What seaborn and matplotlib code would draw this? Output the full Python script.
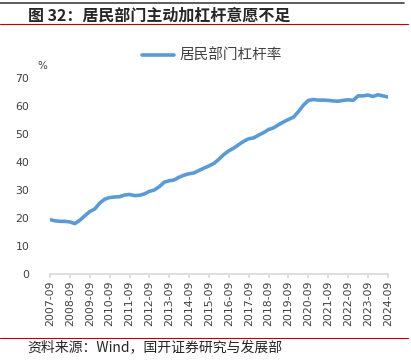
import numpy as np
import pandas as pd
import matplotlib
matplotlib.use("Agg")
import matplotlib.pyplot as plt
import seaborn as sns

# quarterly household leverage ratio (%), 2007-09 .. 2024-09
leverage = [19.4, 19.0, 18.8, 18.8, 18.6, 18.0, 19.2, 20.8, 22.3, 23.2,
            25.3, 26.7, 27.3, 27.5, 27.6, 28.2, 28.4, 28.0, 28.1, 28.6,
            29.5, 30.0, 31.2, 32.8, 33.3, 33.6, 34.6, 35.3, 35.8, 36.1,
            37.0, 37.8, 38.6, 39.5, 41.0, 42.7, 44.0, 45.0, 46.2, 47.4,
            48.3, 48.6, 49.6, 50.5, 51.6, 52.2, 53.3, 54.3, 55.2, 56.0,
            58.0, 60.3, 62.0, 62.3, 62.1, 62.1, 62.0, 61.8, 61.7, 62.0,
            62.2, 62.0, 63.6, 63.6, 63.9, 63.4, 64.0, 63.6, 63.2]
tick_labels = ["2007-09", "2008-09", "2009-09", "2010-09", "2011-09", "2012-09",
               "2013-09", "2014-09", "2015-09", "2016-09", "2017-09", "2018-09",
               "2019-09", "2020-09", "2021-09", "2022-09", "2023-09", "2024-09"]
y_ticks = [0, 10, 20, 30, 40, 50, 60, 70]
series_name = "居民部门杠杆率"
title = "图 32：居民部门主动加杠杆意愿不足"
source = "资料来源：Wind，国开证券研究与发展部"

sns.set_theme(style="white")
plt.rcParams["font.family"] = ["Noto Sans CJK SC", "DejaVu Sans"]

df = pd.DataFrame({"quarter": np.arange(len(leverage)), "value": leverage})

fig = plt.figure(figsize=(4.11, 3.61), dpi=100)
ax = fig.add_axes([0.1217, 0.241, 0.822, 0.543])

sns.lineplot(data=df, x="quarter", y="value", color="#5B9BD5", lw=2.6,
             label=series_name, ax=ax)

ax.set_xlim(0, len(leverage) - 1)
ax.set_ylim(0, 70)
ax.set_xticks(np.arange(0, len(leverage), 4))
ax.set_xticklabels(tick_labels, rotation=90, fontsize=7.8, family="DejaVu Sans", color="#404040")
ax.set_yticks(y_ticks)
ax.set_yticklabels([str(v) for v in y_ticks], fontsize=7.8, family="DejaVu Sans", color="#404040")
ax.set_xlabel("")
ax.set_ylabel("")
for s in ["top", "right", "left"]:
    ax.spines[s].set_visible(False)
ax.spines["bottom"].set_color("#D9D9D9")
ax.tick_params(axis="x", bottom=True, length=3, color="#D9D9D9", pad=2)
ax.tick_params(axis="y", left=False, pad=9)
ax.grid(False)

ax.legend(loc="lower center", bbox_to_anchor=(0.48, 1.01), frameon=False,
          fontsize=10.5, handlelength=2.2, handletextpad=0.35, labelcolor="#404040")
fig.text(0.09, 0.817, "%", fontsize=7.5, family="DejaVu Sans", color="#404040", va="center")

# header / footer
fig.add_artist(plt.Line2D([0, 0.983], [0.992, 0.992], color="#404040", lw=1.2))
fig.add_artist(plt.Line2D([0, 0.993], [0.934, 0.934], color="#C00000", lw=0.8))
fig.add_artist(plt.Line2D([0, 0.993], [0.064, 0.064], color="#C00000", lw=0.8))
fig.text(0.068, 0.957, title, fontsize=11.5, fontweight="bold", va="center")
fig.text(0.066, 0.037, source, fontsize=10, va="center")

fig.savefig("out.png", dpi=100)
